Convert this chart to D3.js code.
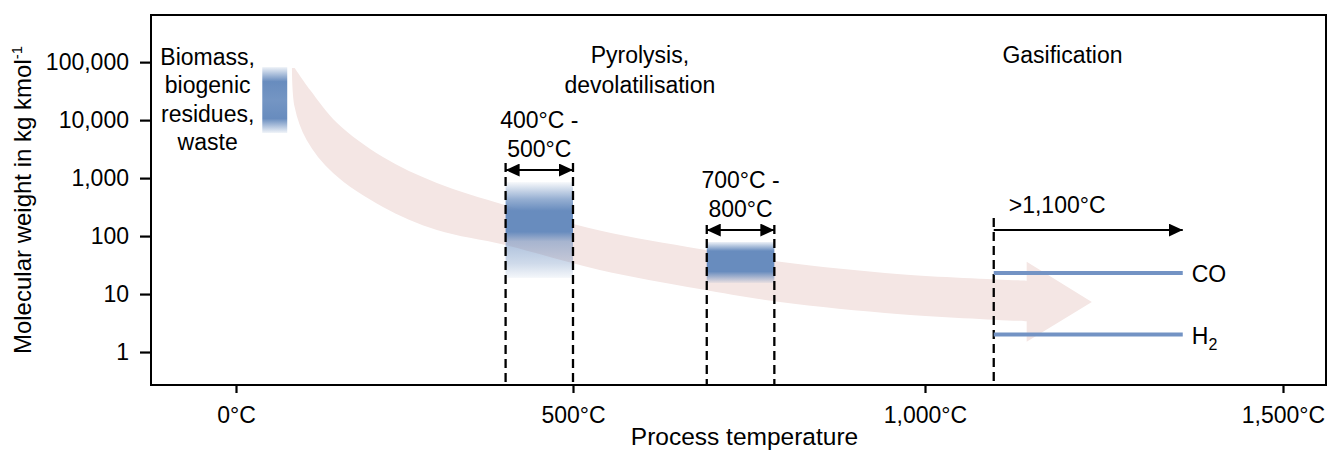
<!DOCTYPE html>
<html>
<head>
<meta charset="utf-8">
<script src="https://cdn.jsdelivr.net/npm/d3@7"></script>
<style>
body { margin: 0; background: #fff; }
svg text { font-family: "Liberation Sans", Arial, Helvetica, sans-serif; font-size: 23px; fill: #000; }
</style>
</head>
<body>
<svg id="chart" width="1330" height="450"></svg>
<script>
var tempTicks = [0, 500, 1000, 1500];
var tempTickLabels = ["0°C", "500°C", "1,000°C", "1,500°C"];
var weightTicks = [1, 10, 100, 1000, 10000, 100000];
var weightTickLabels = ["1", "10", "100", "1,000", "10,000", "100,000"];

// coloured ranges: temperature from/to, molecular weight low/high
var rangeNames = ["feedstock", "pyrolysis", "cracking"];
var rangeTempFrom = [39, 400, 690];
var rangeTempTo = [76, 500, 786];
var rangeWeightLow = [6000, 19, 15.5];
var rangeWeightHigh = [82000, 855, 79];

// gasification products
var gasNames = ["CO", "H2"];
var gasWeights = [23, 2];
var gasTempFrom = 1096;
var gasTempTo = 1360;

// big process arrow, edges as [temperature, weight]
var arrowUpper = [[87, 79000], [110, 33000], [150, 8900], [218, 2300], [298, 820], [400, 340],
                  [538, 125], [680, 60], [794, 36], [965, 22], [1142, 17]];
var arrowLower = [[83, 79000], [87, 16800], [105, 4500], [144, 1220], [218, 317], [298, 127],
                  [400, 70], [538, 26], [680, 12.2], [794, 7.3], [965, 4.5], [1142, 3.4]];
var arrowHeadTemp = [1142, 1233];
var arrowHeadWeight = [36, 7.3, 1.5];

var margin = {top: 15, left: 151},
	width = 1175,
	height = 370,
	blue = "#688cbe";

var svg = d3.select("#chart");
var g = svg.append("g").attr("transform", "translate(" + margin.left + "," + margin.top + ")");

// the original axis is a sketch, spacing between ticks is not even
var x = d3.scaleLinear()
		.domain([-126, 0, 500, 1000, 1500, 1560])
		.range([0, 85, 422, 774, 1132, 1175]);
var y = d3.scaleLog()
		.domain([0.27, 650000])
		.range([height, 0]);

var defs = svg.append("defs");
defs.append("marker")
	.attr("id", "head")
	.attr("viewBox", "0 0 14 13")
	.attr("refX", 14).attr("refY", 6.5)
	.attr("markerWidth", 14).attr("markerHeight", 13)
	.attr("markerUnits", "userSpaceOnUse")
	.attr("orient", "auto-start-reverse")
	.append("path").attr("d", "M0,0L14,6.5L0,13Z").attr("fill", "#000");

var stops = {
	feedstock: [[0, 0.12], [0.22, 1], [0.5, 0.92], [0.78, 1], [1, 0.1]],
	pyrolysis: [[0, 0.05], [0.18, 0.7], [0.3, 1], [0.52, 1], [0.62, 0.55], [0.85, 0.32], [1, 0.07]],
	cracking: [[0, 0.12], [0.22, 1], [0.72, 1], [1, 0.08]]
};
rangeNames.forEach(function(n){
	var lg = defs.append("linearGradient").attr("id", "grad-" + n)
		.attr("x1", 0).attr("y1", 0).attr("x2", 0).attr("y2", 1);
	stops[n].forEach(function(s){
		lg.append("stop").attr("offset", s[0]).attr("stop-color", blue).attr("stop-opacity", s[1]);
	});
});

// process arrow
var edge = d3.line()
		.x(function(d){ return x(d[0]); })
		.y(function(d){ return y(d[1]); })
		.curve(d3.curveCatmullRom);
var upperPath = edge(arrowUpper);
var lowerPath = edge(arrowLower.slice().reverse()).replace(/^M/, "L");
var headPath = "L" + x(arrowHeadTemp[0]) + "," + y(arrowHeadWeight[0]) +
			   "L" + x(arrowHeadTemp[1]) + "," + y(arrowHeadWeight[1]) +
			   "L" + x(arrowHeadTemp[0]) + "," + y(arrowHeadWeight[2]) +
			   "L" + x(arrowLower[arrowLower.length - 1][0]) + "," + y(arrowLower[arrowLower.length - 1][1]);
g.append("path")
	.attr("d", upperPath + headPath + lowerPath + "Z")
	.attr("fill", "#f4e6e4");

// coloured ranges
g.selectAll(".range")
	.data(rangeNames)
	.enter().append("rect")
	.attr("class", "range")
	.attr("x", function(d, i){ return x(rangeTempFrom[i]); })
	.attr("width", function(d, i){ return x(rangeTempTo[i]) - x(rangeTempFrom[i]); })
	.attr("y", function(d, i){ return y(rangeWeightHigh[i]); })
	.attr("height", function(d, i){ return y(rangeWeightLow[i]) - y(rangeWeightHigh[i]); })
	.attr("fill", function(d){ return "url(#grad-" + d + ")"; });

// dashed temperature markers
var markers = [
	{t: rangeTempFrom[1], top: 1820}, {t: rangeTempTo[1], top: 1820},
	{t: rangeTempFrom[2], top: 155}, {t: rangeTempTo[2], top: 155},
	{t: gasTempFrom, top: 205}
];
g.selectAll(".marker")
	.data(markers)
	.enter().append("line")
	.attr("class", "marker")
	.attr("x1", function(d){ return x(d.t); })
	.attr("x2", function(d){ return x(d.t); })
	.attr("y1", function(d){ return y(d.top); })
	.attr("y2", height)
	.attr("stroke", "#000")
	.attr("stroke-width", 2.3)
	.attr("stroke-dasharray", "9,5");

// span arrows
var spans = [
	{from: rangeTempFrom[1], to: rangeTempTo[1], w: 1377, both: true, label: ["400°C -", "500°C"]},
	{from: rangeTempFrom[2], to: rangeTempTo[2], w: 127, both: true, label: ["700°C -", "800°C"]},
	{from: gasTempFrom, to: gasTempTo, w: 127, both: false, label: [">1,100°C"]}
];
spans.forEach(function(s){
	var ln = g.append("line")
		.attr("x1", x(s.from)).attr("x2", x(s.to))
		.attr("y1", y(s.w)).attr("y2", y(s.w))
		.attr("stroke", "#000").attr("stroke-width", 2)
		.attr("marker-end", "url(#head)");
	if(s.both) ln.attr("marker-start", "url(#head)");
	if(s.both){
		var cx = (x(s.from) + x(s.to)) / 2;
		g.append("text").attr("x", cx).attr("y", y(s.w) - 42).attr("text-anchor", "middle").text(s.label[0]);
		g.append("text").attr("x", cx).attr("y", y(s.w) - 13).attr("text-anchor", "middle").text(s.label[1]);
	} else {
		g.append("text").attr("x", x(s.from) + 15).attr("y", y(s.w) - 17).text(s.label[0]);
	}
});

// gas lines
g.selectAll(".gas")
	.data(gasNames)
	.enter().append("line")
	.attr("class", "gas")
	.attr("x1", x(gasTempFrom)).attr("x2", x(gasTempTo))
	.attr("y1", function(d, i){ return y(gasWeights[i]); })
	.attr("y2", function(d, i){ return y(gasWeights[i]); })
	.attr("stroke", "#7393c4")
	.attr("stroke-width", 4);

var gasText = g.selectAll(".gas-label")
	.data(gasNames)
	.enter().append("text")
	.attr("class", "gas-label")
	.attr("x", x(gasTempTo) + 9)
	.attr("y", function(d, i){ return y(gasWeights[i]) + 9; });
gasText.append("tspan").text(function(d){ return d.replace("2", ""); });
gasText.filter(function(d){ return d.indexOf("2") >= 0; })
	.append("tspan").attr("dy", 6).style("font-size", "16px").text("2");

// phase labels
var feed = g.append("text").attr("text-anchor", "middle");
["Biomass,", "biogenic", "residues,", "waste"].forEach(function(t, i){
	feed.append("tspan").attr("x", x(-42)).attr("y", 50 + i * 28.3).text(t);
});
var pyro = g.append("text").attr("text-anchor", "middle");
["Pyrolysis,", "devolatilisation"].forEach(function(t, i){
	pyro.append("tspan").attr("x", x(595)).attr("y", 48 + i * 30).text(t);
});
g.append("text").attr("text-anchor", "middle").attr("x", x(1192)).attr("y", 48).text("Gasification");

// axes
var xAxis = g.append("g")
	.attr("transform", "translate(0," + height + ")")
	.call(d3.axisBottom(x).tickValues(tempTicks)
		.tickFormat(function(d, i){ return tempTickLabels[i]; })
		.tickSizeInner(8).tickSizeOuter(0).tickPadding(14));
var yAxis = g.append("g")
	.call(d3.axisLeft(y).tickValues(weightTicks)
		.tickFormat(function(d, i){ return weightTickLabels[i]; })
		.tickSizeInner(11).tickSizeOuter(0).tickPadding(11));
[xAxis, yAxis].forEach(function(a){
	a.select(".domain").remove();
	a.selectAll(".tick line").attr("stroke-width", 2.2);
	a.selectAll("text").style("font-size", "23px").style("font-family", null);
});

g.append("rect")
	.attr("width", width).attr("height", height)
	.attr("fill", "none").attr("stroke", "#000").attr("stroke-width", 2);

svg.append("text")
	.attr("x", margin.left + width / 2 + 6).attr("y", 445)
	.attr("text-anchor", "middle")
	.style("font-size", "24.5px")
	.text("Process temperature");

var yl = svg.append("text")
	.attr("transform", "translate(31," + (margin.top + height / 2) + ") rotate(-90)")
	.attr("text-anchor", "middle")
	.style("font-size", "24px");
yl.append("tspan").text("Molecular weight in kg kmol");
yl.append("tspan").attr("dy", -9).style("font-size", "15px").text("-1");
</script>
</body>
</html>
